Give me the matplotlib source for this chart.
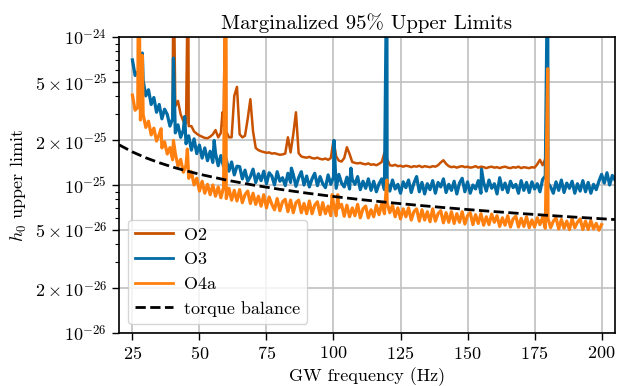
import numpy as np
import matplotlib
matplotlib.use("Agg")
import matplotlib.pyplot as plt
from matplotlib.ticker import FixedLocator, NullFormatter

plt.rcParams['font.family'] = ['cmr10', 'DejaVu Serif']
plt.rcParams['mathtext.fontset'] = 'cm'
plt.rcParams['axes.formatter.use_mathtext'] = True
plt.rcParams['axes.unicode_minus'] = False

unit = 1e-26  # all h0 values below are in units of 1e-26

# O3 (1 Hz grid, 25..205 Hz)
o3_freq = np.arange(25, 206)
o3_h = [70, 55, 58, 46, 51, 40, 44, 35, 39, 31,
        35, 28, 32.5, 30, 25, 28, 22.5, 25.5, 21, 23.5,
        19, 21.5, 17.2, 20.5, 16.3, 18.6, 15.2, 17.8, 14.6, 16.9,
        14.2, 16.4, 13.5, 15.8, 13.3, 14.9, 12.4, 14.3, 11.7, 13.4,
        13.3, 11.0, 12.6, 10.6, 11.4, 12.8, 10.4, 11.9, 10.7, 12.4,
        10.2, 12.1, 11.5, 10.0, 12.3, 10.6, 11.2, 9.9, 12.0, 10.4,
        11.8, 9.8, 11.2, 12.3, 10.0, 11.5, 9.7, 11.0, 12.0, 9.9,
        11.4, 10.2, 9.6, 11.7, 10.1, 11.3, 9.5, 11.8, 10.3, 9.7,
        11.3, 9.4, 10.9, 10.1, 11.4, 9.3, 10.6, 9.5, 11.0, 9.2,
        10.6, 9.0, 10.2, 11.0, 9.3, 10.5, 9.1, 10.8, 9.4, 10.1,
        8.8, 10.5, 9.6, 10.8, 8.9, 10.3, 11.4, 9.0, 10.4, 8.7,
        10.2, 9.3, 10.7, 8.8, 10.4, 9.7, 11.0, 8.9, 10.1, 9.2,
        10.6, 8.7, 10.3, 11.1, 9.0, 10.5, 8.8, 10.0, 9.4, 10.7,
        8.8, 10.4, 9.1, 10.8, 9.5, 10.2, 8.7, 11.2, 9.3, 10.3,
        8.9, 10.6, 9.6, 10.1, 8.8, 10.7, 9.2, 10.4, 8.9, 10.5,
        9.4, 10.2, 9.0, 10.9, 11.5, 10.3, 9.7, 8.8, 10.5, 9.2,
        10.8, 8.9, 10.3, 9.5, 10.6, 8.8, 10.2, 9.1, 10.7, 9.0,
        10.4, 8.8, 10.1, 9.3, 10.6, 11.8, 10.3, 12.1, 10.0, 11.6,
        10.8]
o3_line_freq = [28.7, 40.3, 44.5, 55.5, 84.3, 100.2, 106.5, 119.9, 155.2, 179.9]
o3_line_h = [78, 72, 29, 20, 13, 20, 13, 400, 12.8, 400]

# O4a (1 Hz grid, 25..200 Hz)
o4a_freq = np.arange(25, 201)
o4a_h = [40.5, 32, 33.5, 27.5, 30, 24.5, 27, 21.8, 24.2, 19.8,
         22, 17.8, 19.6, 16.2, 17.9, 14.8, 16.4, 13.4, 14.9, 12.2,
         13.6, 11.1, 12.3, 10.0, 11.1, 9.1, 10.6, 8.8, 10.1, 8.6,
         10.0, 8.4, 9.7, 8.2, 9.6, 8.1, 9.5, 7.9, 9.2, 7.8,
         9.3, 7.6, 8.6, 9.1, 7.5, 8.8, 7.4, 8.4, 7.2, 8.6,
         7.0, 8.3, 7.4, 6.8, 8.1, 6.7, 7.7, 8.0, 6.6, 7.9,
         6.5, 7.6, 7.9, 6.5, 7.5, 6.4, 7.8, 6.4, 7.3, 7.7,
         6.3, 7.6, 6.4, 7.2, 6.2, 7.5, 6.2, 7.0, 7.4, 6.15,
         7.3, 6.1, 7.0, 6.2, 7.4, 6.0, 6.9, 7.2, 6.0, 6.8,
         6.1, 7.3, 6.3, 7.5, 6.4, 7.6, 6.5, 7.3, 6.1, 7.0,
         5.9, 6.9, 6.1, 7.0, 5.8, 6.6, 6.9, 5.7, 6.8, 5.8,
         6.6, 5.65, 6.9, 5.7, 6.4, 6.7, 5.55, 6.5, 5.6, 6.6,
         5.5, 6.4, 5.6, 6.6, 5.45, 6.2, 6.5, 5.4, 6.3, 5.5,
         6.4, 5.35, 6.1, 5.4, 6.35, 5.6, 6.2, 5.25, 6.0, 5.35,
         6.2, 5.2, 5.9, 6.15, 5.2, 5.95, 5.25, 6.1, 5.15, 5.8,
         5.2, 6.0, 5.4, 6.05, 5.1, 5.9, 5.15, 5.7, 6.0, 5.05,
         5.85, 5.1, 5.7, 5.0, 5.9, 5.15, 5.6, 5.9, 5.0, 5.7,
         5.0, 5.75, 5.05, 5.5, 4.95, 5.4]
o4a_line_freq = [27.3, 28.7, 35.7, 40.3, 45.5, 59.8, 99.5, 101.6, 119.9, 179.9]
o4a_line_h = [400, 75, 24, 20, 17.5, 400, 8.6, 8.6, 10.8, 61]

# O2 (1 Hz grid, 40..180 Hz)
o2_freq = np.arange(40, 181)
o2_h = [30, 34, 37, 30, 27, 26, 25, 25, 23, 22.2,
        21.6, 21.2, 20.8, 20.7, 21.2, 22.0, 23.5, 21.0, 22.5, 25,
        23, 21, 21, 40, 46, 22, 21, 21.5, 28, 38,
        23, 17.8, 17.2, 16.9, 16.7, 16.5, 16.6, 16.3, 16.4, 16.2,
        16.0, 16.1, 16.3, 21, 16.6, 22, 31, 16.4, 15.6, 15.4,
        15.3, 15.5, 15.2, 15.1, 15.3, 15.0, 14.9, 15.1, 14.8, 15.2,
        20, 15.6, 14.6, 14.4, 15.2, 18, 16.2, 14.3, 14.1, 14.0,
        14.1, 13.9, 13.8, 14.0, 13.7, 13.8, 13.6, 13.9, 14.3, 16.5,
        15.0, 13.6, 13.5, 13.7, 13.4, 13.5, 13.3, 13.5, 13.4, 13.2,
        13.4, 13.3, 13.5, 13.2, 13.4, 13.3, 13.2, 13.4, 13.3, 13.6,
        14.2, 14.7, 13.9, 13.4, 13.2, 13.3, 13.1, 13.3, 13.4, 13.2,
        13.3, 13.1, 13.2, 13.4, 13.1, 13.3, 13.2, 13.0, 13.2, 13.3,
        13.1, 13.2, 13.0, 13.2, 13.3, 13.1, 13.0, 13.2, 13.1, 13.3,
        13.0, 13.2, 13.1, 13.0, 13.2, 13.1, 13.8, 14.8, 13.6, 15.0,
        17.5]
o2_line_freq = [40.3, 45.8, 58.6, 59.8]
o2_line_h = [400, 400, 31, 400]

# torque balance estimate
torque_freq = [20, 25, 30, 35, 40, 45, 50, 60, 70, 80, 90, 100, 110, 120,
               130, 140, 150, 160, 170, 180, 190, 205]
torque_h = [18.7, 16.73, 15.27, 14.14, 13.22, 12.47, 11.83, 10.80, 9.995, 9.35,
            8.815, 8.363, 7.974, 7.634, 7.335, 7.068, 6.829, 6.611, 6.414,
            6.233, 6.067, 5.841]

ytick_vals = [1e-26, 2e-26, 5e-26, 1e-25, 2e-25, 5e-25, 1e-24]
ytick_labels = [r'$10^{-26}$', r'$2\times10^{-26}$', r'$5\times10^{-26}$',
                r'$10^{-25}$', r'$2\times10^{-25}$', r'$5\times10^{-25}$',
                r'$10^{-24}$']
xtick_vals = [25, 50, 75, 100, 125, 150, 175, 200]


def merge(freq, h, lf, lh):
    f = np.concatenate([freq, lf])
    v = np.concatenate([np.array(h, float), np.array(lh, float)]) * unit
    idx = np.argsort(f)
    return f[idx], v[idx]


fig = plt.figure(figsize=(6.18, 3.86), dpi=100)
ax = fig.add_axes([119/618, 53/386, 496/618, 296/386])

f, v = merge(o2_freq, o2_h, o2_line_freq, o2_line_h)
ax.plot(f, v, color='#C85200', lw=1.8, label='O2')
f, v = merge(o3_freq, o3_h, o3_line_freq, o3_line_h)
ax.plot(f, v, color='#006BA4', lw=2.3, label='O3')
f, v = merge(o4a_freq, o4a_h, o4a_line_freq, o4a_line_h)
ax.plot(f, v, color='#FF800E', lw=2.3, label='O4a')
ax.plot(torque_freq, np.array(torque_h) * unit, 'k--', lw=2, label='torque balance')

ax.set_yscale('log')
ax.set_xlim(20, 205)
ax.set_ylim(1e-26, 1e-24)
ax.yaxis.set_major_locator(FixedLocator(ytick_vals))
ax.set_yticklabels(ytick_labels)
ax.yaxis.set_minor_locator(FixedLocator([k * 10.0**e for e in (-26, -25) for k in (3, 4, 6, 7, 8, 9)]))
ax.yaxis.set_minor_formatter(NullFormatter())
ax.set_xticks(xtick_vals)
ax.tick_params(labelsize=13, length=5, width=1)
ax.tick_params(which='minor', length=3, width=0.8)
ax.grid(True, which='major', color='#c0c0c0', lw=1.2)
ax.set_axisbelow(True)
for s in ax.spines.values():
    s.set_linewidth(1.2)

ax.set_title('Marginalized 95% Upper Limits', fontsize=15)
ax.set_xlabel('GW frequency (Hz)', fontsize=13)
ax.set_ylabel(r'$h_0$ upper limit', fontsize=13)
leg = ax.legend(loc='lower left', fontsize=13, handlelength=2.1, handletextpad=0.6)
for line in leg.get_lines():
    line.set_linewidth(2)

fig.savefig('out.png', dpi=100)
